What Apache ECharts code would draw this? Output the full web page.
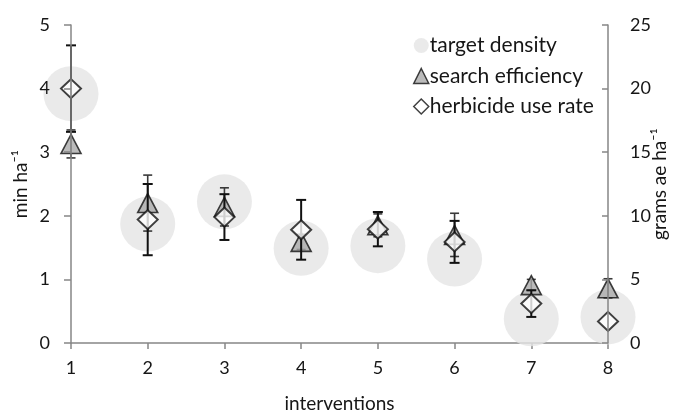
<!DOCTYPE html>
<html>
<head>
<meta charset="utf-8">
<script src="https://cdn.jsdelivr.net/npm/echarts@6/dist/echarts.min.js"></script>
<style>
  html, body { margin: 0; padding: 0; background: #fff; }
  #chart { width: 681px; height: 414px; }
</style>
</head>
<body>
<div id="chart"></div>
<script>
// Intervention numbers (x)
const interventions = [1, 2, 3, 4, 5, 6, 7, 8];
// Target density, min ha-1 (left axis)
const targetDensity = [3.92, 1.87, 2.22, 1.49, 1.53, 1.32, 0.38, 0.41];
// Search efficiency, min ha-1 (left axis) and its error half-width
const searchEfficiency = [3.13, 2.20, 2.14, 1.59, 1.85, 1.70, 0.91, 0.86];
const searchEfficiencyErr = [0.22, 0.44, 0.30, 0.12, 0.18, 0.34, 0.09, 0.15];
// Herbicide use rate, grams ae ha-1 (right axis) and its error half-width
const herbicideUseRate = [20.0, 9.7, 9.9, 8.9, 8.95, 7.95, 3.1, 1.7];
const herbicideUseRateErr = [3.4, 2.8, 1.8, 2.35, 1.35, 1.65, 1.05, 0];
// Axis ticks
const xTicks = [1, 2, 3, 4, 5, 6, 7, 8];
const leftTicks = [0, 1, 2, 3, 4, 5];
const rightTicks = [0, 5, 10, 15, 20, 25];

const FONT = 'Lato';
const TEXT = '#161616';
const AXIS_GREY = '#868686';

const pairs = (ys) => interventions.map((x, i) => [x, ys[i]]);
const bars = (ys, err) => interventions.map((x, i) => [x, ys[i] - err[i], ys[i] + err[i]]);

function errorBar(color, width, cap) {
  return function (params, api) {
    const x = api.value(0);
    const lo = api.value(1), hi = api.value(2);
    if (lo === hi) return null;
    const a = api.coord([x, lo]);
    const b = api.coord([x, hi]);
    const style = { stroke: color, lineWidth: width };
    return {
      type: 'group',
      children: [
        { type: 'line', shape: { x1: a[0], y1: a[1], x2: b[0], y2: b[1] }, style },
        { type: 'line', shape: { x1: a[0] - cap, y1: a[1], x2: a[0] + cap, y2: a[1] }, style },
        { type: 'line', shape: { x1: b[0] - cap, y1: b[1], x2: b[0] + cap, y2: b[1] }, style }
      ]
    };
  };
}

const chart = echarts.init(document.getElementById('chart'), null, { renderer: 'canvas' });

chart.setOption({
  animation: false,
  backgroundColor: '#ffffff',
  textStyle: { fontFamily: FONT },
  grid: { left: 71, right: 73, top: 25, bottom: 71, containLabel: false, outerBoundsMode: 'none' },
  legend: {
    orient: 'vertical',
    left: 408,
    top: 30,
    itemWidth: 15,
    itemHeight: 15,
    itemGap: 9.5,
    itemStyle: { borderWidth: 1.5 },
    textStyle: { fontFamily: FONT, fontSize: 21, lineHeight: 21, color: TEXT, padding: [0, 0, 0, -4] },
    data: ['target density', 'search efficiency', 'herbicide use rate']
  },
  xAxis: {
    type: 'value',
    min: xTicks[0],
    max: xTicks[xTicks.length - 1],
    interval: 1,
    name: 'interventions',
    nameLocation: 'middle',
    nameGap: 51,
    nameMoveOverlap: false,
    nameTextStyle: { fontFamily: FONT, fontSize: 19, color: TEXT },
    axisLine: { show: true, onZero: false, lineStyle: { color: AXIS_GREY, width: 1.5 } },
    axisTick: { show: true, length: 6, inside: false, lineStyle: { color: AXIS_GREY, width: 1.5 } },
    axisLabel: { fontFamily: FONT, fontSize: 18, color: TEXT, margin: 16 },
    splitLine: { show: false }
  },
  yAxis: [
    {
      type: 'value',
      z: 6,
      min: leftTicks[0],
      max: leftTicks[leftTicks.length - 1],
      interval: 1,
      position: 'left',
      name: 'min ha⁻¹',
      nameLocation: 'middle',
      nameGap: 41,
      nameMoveOverlap: false,
      nameRotate: 90,
      nameTextStyle: { fontFamily: FONT, fontSize: 19, color: TEXT },
      axisLine: { show: true, lineStyle: { color: AXIS_GREY, width: 1.5 } },
      axisTick: { show: true, length: 7, lineStyle: { color: AXIS_GREY, width: 1.5 } },
      axisLabel: { fontFamily: FONT, fontSize: 18, color: TEXT, margin: 21 },
      splitLine: { show: false }
    },
    {
      type: 'value',
      z: 6,
      min: rightTicks[0],
      max: rightTicks[rightTicks.length - 1],
      interval: 5,
      position: 'right',
      name: 'grams ae ha⁻¹',
      nameLocation: 'middle',
      nameGap: 42,
      nameMoveOverlap: false,
      nameRotate: 90,
      nameTextStyle: { fontFamily: FONT, fontSize: 19, color: TEXT },
      axisLine: { show: true, lineStyle: { color: AXIS_GREY, width: 1.5 } },
      axisTick: { show: true, length: 6, inside: true, lineStyle: { color: AXIS_GREY, width: 1.5 } },
      axisLabel: { fontFamily: FONT, fontSize: 18, color: TEXT, margin: 22 },
      splitLine: { show: false }
    }
  ],
  series: [
    {
      name: 'target density',
      type: 'scatter',
      yAxisIndex: 0,
      symbol: 'circle',
      symbolSize: 55,
      z: 1,
      itemStyle: { color: '#e5e5e5', borderWidth: 0 },
      data: pairs(targetDensity)
    },
    {
      name: 'search efficiency err',
      type: 'custom',
      yAxisIndex: 0,
      z: 2,
      encode: { x: 0, y: [1, 2] },
      renderItem: errorBar('#3a3a3a', 1.6, 4.5),
      data: bars(searchEfficiency, searchEfficiencyErr)
    },
    {
      name: 'search efficiency',
      type: 'scatter',
      yAxisIndex: 0,
      symbol: 'triangle',
      symbolSize: [20, 19],
      z: 3,
      itemStyle: { color: '#aaaaaa', borderColor: '#111', borderWidth: 1.6 },
      data: pairs(searchEfficiency)
    },
    {
      name: 'herbicide use rate err',
      type: 'custom',
      yAxisIndex: 1,
      z: 4,
      encode: { x: 0, y: [1, 2] },
      renderItem: errorBar('#111', 2, 5),
      data: bars(herbicideUseRate, herbicideUseRateErr)
    },
    {
      name: 'herbicide use rate',
      type: 'scatter',
      yAxisIndex: 1,
      symbol: 'diamond',
      symbolSize: [20, 19],
      z: 5,
      itemStyle: { color: '#ffffff', borderColor: '#111', borderWidth: 2 },
      data: pairs(herbicideUseRate)
    }
  ]
});
</script>
</body>
</html>
